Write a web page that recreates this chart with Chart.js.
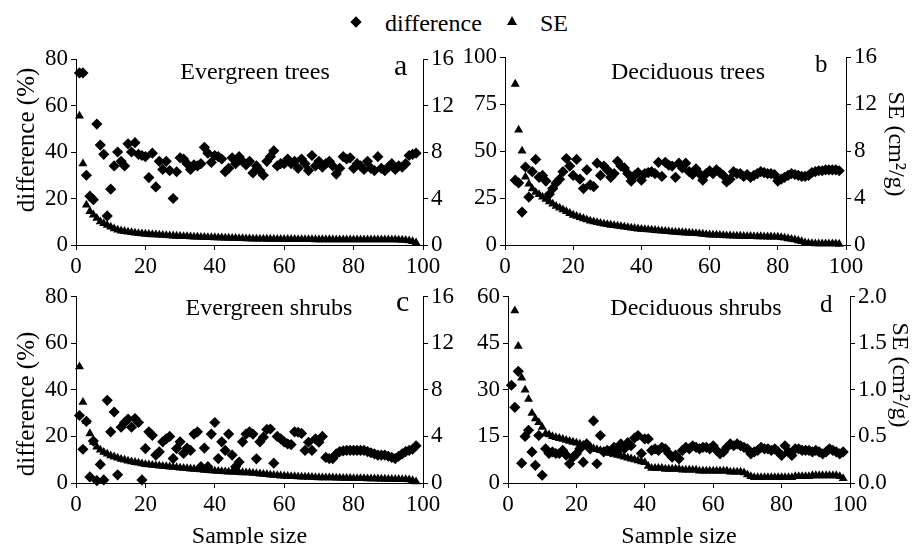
<!DOCTYPE html>
<html><head><meta charset="utf-8">
<script src="https://cdn.jsdelivr.net/npm/chart.js@4.4.1/dist/chart.umd.min.js"></script>
<style>
body{margin:0;background:#fff;width:922px;height:544px;position:relative;overflow:hidden;font-family:"Liberation Serif",serif;color:#000}
canvas{position:absolute}
.t{position:absolute;white-space:nowrap;line-height:24px;font-size:24px}
.c{transform:translateX(-50%)}
.vl{transform:translate(-50%,-50%) rotate(-90deg)}
.vr{transform:translate(-50%,-50%) rotate(90deg)}
.dia{position:absolute;width:8px;height:8px;background:#000;transform:rotate(45deg)}
.tri{position:absolute;width:0;height:0;border-left:5px solid transparent;border-right:5px solid transparent;border-bottom:9px solid #000}
</style></head><body>
<div class="dia" style="left:352px;top:18px"></div><div class="t" style="left:385px;top:11px">difference</div>
<div class="tri" style="left:507px;top:16px"></div><div class="t" style="left:540px;top:11px">SE</div>

<canvas id="cA" width="461" height="250" style="left:0;top:30px"></canvas>
<canvas id="cB" width="461" height="250" style="left:461px;top:30px"></canvas>
<canvas id="cC" width="461" height="264" style="left:0;top:280px"></canvas>
<canvas id="cD" width="461" height="264" style="left:461px;top:280px"></canvas>

<div class="t c" style="left:255px;top:59px">Evergreen trees</div>
<div class="t c" style="left:688px;top:59px">Deciduous trees</div>
<div class="t c" style="left:269px;top:295px">Evergreen shrubs</div>
<div class="t c" style="left:696px;top:295px">Deciduous shrubs</div>
<div class="t" style="left:394px;top:50px;font-size:30px;line-height:30px">a</div>
<div class="t" style="left:815px;top:51px;font-size:25px;line-height:25px">b</div>
<div class="t" style="left:396px;top:286px;font-size:30px;line-height:30px">c</div>
<div class="t" style="left:820px;top:291px;font-size:25px;line-height:25px">d</div>

<div class="t vl" style="left:26px;top:140px;font-size:25px">difference (%)</div>
<div class="t vl" style="left:26px;top:404px;font-size:25px">difference (%)</div>
<div class="t vr" style="left:897px;top:144px">SE (cm²/g)</div>
<div class="t vr" style="left:901px;top:375px">SE (cm²/g)</div>

<script>
// ---- data (sample size starts at xStart, one value per sample size) ----
const xStartDiffA = 1, xStartSeA = 1;
const diffA = [74,74,30,21,19.5,52,43,39,12.5,24, 34,40,36,34,43.5,40,44,39,38.5,38,
  29,39.5,25,36,32.5,36,32,20,31.5,37.5, 37,35,32.5,34.5,34,35,42,39.5,35.5,38.5,
  38,37,31.5,33,37.5,35,38,36,34.5,36, 31,34,32,30,36,38,40.5,34,35,35,
  37,35,36,33,37,35,32,38.5,34,36, 33.5,35,36,34,30.5,33,38,37,37.5,33,
  35,34,32.5,36,33,32,38,33,32,33.5, 35,32.5,34,33.5,35,38.5,39,39.5];
const seA = [11.1,7.0,3.45,2.9,2.6,2.3,2.0,1.85,1.7,1.55, 1.4,1.3,1.22,1.18,1.12,1.08,1.04,1.0,0.97,0.94,
  0.92,0.9,0.88,0.86,0.84,0.82,0.8,0.79,0.77,0.76, 0.74,0.73,0.72,0.7,0.69,0.68,0.67,0.66,0.65,0.64,
  0.63,0.62,0.61,0.6,0.59,0.58,0.57,0.56,0.55,0.54, 0.53,0.53,0.52,0.52,0.51,0.51,0.5,0.5,0.5,0.49,
  0.49,0.49,0.49,0.48,0.48,0.48,0.48,0.48,0.47,0.47, 0.47,0.47,0.47,0.47,0.46,0.46,0.46,0.46,0.46,0.46,
  0.46,0.46,0.46,0.46,0.45,0.45,0.45,0.45,0.45,0.45, 0.45,0.45,0.44,0.44,0.42,0.38,0.3,0.2];

const xStartDiffB = 3, xStartSeB = 3;
const diffB = [34.5,33,17.5,41.5,25.5,39,45.5,36,37,34, 27,30,33,35,39,46,42,37,45.5,35,
  30,40,32,31,43.5,37,42,40,36,38, 44.5,42,41,38,34,37,38.5,34.5,38,38.5,
  39,38,44,36.5,44,42.5,42,36,43.5,41, 43.5,39,37.5,40.5,38,34.5,38,39.5,38,40,
  38.5,37,33.5,35,39,38,38,36.5,37.5,36, 37,38,39,38.5,38,38,37.5,34,35,36,
  37,38,37.5,37,36.5,36.5,37,38.5,39,39.5, 39.5,40,40,40,40,39.5];
const seB = [13.7,9.8,8.0,5.8,5.2,4.8,4.5,4.3,4.1,3.9, 3.7,3.5,3.3,3.15,3.0,2.85,2.7,2.55,2.45,2.35,
  2.25,2.15,2.05,1.98,1.92,1.86,1.8,1.75,1.7,1.66, 1.62,1.58,1.54,1.5,1.46,1.42,1.38,1.35,1.32,1.3,
  1.28,1.25,1.22,1.2,1.18,1.15,1.12,1.1,1.08,1.06, 1.04,1.02,1.0,0.98,0.96,0.93,0.9,0.87,0.86,0.85,
  0.84,0.82,0.8,0.79,0.78,0.77,0.76,0.75,0.74,0.74, 0.73,0.72,0.72,0.71,0.7,0.7,0.69,0.68,0.64,0.6,
  0.55,0.5,0.45,0.38,0.3,0.2,0.15,0.13,0.12,0.12, 0.12,0.12,0.12,0.12,0.11,0.08];

const xStartDiffC = 1, xStartSeC = 1;
const diffC = [29,14.5,26.5,2.6,18,1,8,1.3,35.5,22, 30.5,3.5,24,26,27.5,24,27.7,26,1.3,14.8,
  22,20.5,12,13.4,17.7,19,20,10.5,14.8,17.7, 12.7,15,14,21,22,7,15,7,21,26,
  10.5,17.7,14,21,12,7,9,17.7,21,22, 21,10.4,17.7,19.7,23,23.2,8.5,20,19,17.7,
  16.8,16.5,22,21.8,21.3,14,17.5,14,19,17.5, 20,11,10.5,10.5,12.5,13.5,13.8,14,14,14,
  14,14,14,13.5,13,12.5,12,12,12,11.5, 11,10.5,11.5,12.5,13.5,14,14.5,16];
const seC = [10,6.95,5.3,4.25,3.5,3.1,2.85,2.65,2.5,2.35, 2.25,2.15,2.05,1.98,1.9,1.84,1.78,1.72,1.66,1.6,
  1.57,1.54,1.51,1.48,1.45,1.42,1.39,1.36,1.33,1.3, 1.28,1.25,1.22,1.2,1.17,1.14,1.11,1.09,1.06,1.03,
  1.01,0.99,0.98,0.96,0.95,0.93,0.92,0.9,0.89,0.88, 0.85,0.82,0.79,0.76,0.73,0.7,0.67,0.65,0.62,0.6,
  0.59,0.57,0.56,0.55,0.53,0.52,0.51,0.5,0.48,0.47, 0.46,0.46,0.45,0.45,0.44,0.43,0.42,0.41,0.41,0.4,
  0.4,0.39,0.39,0.38,0.37,0.37,0.36,0.35,0.34,0.33, 0.33,0.32,0.32,0.31,0.3,0.28,0.22,0.12];

const xStartDiffD = 1, xStartSeD = 2;
const diffD = [31.5,24.4,36,6.4,15,17,10,5.7,15.3,2.5, 11,9.5,10,9.5,9.5,10.5,9,6.2,8.3,9.4,
  11,6.7,12.6,11,20,6.2,15.3,10,10.5,10, 11.5,10.5,12.6,11,13,12,14.5,15.3,9.5,14.2,
  14.2,10.5,11,10.5,11.5,11,9.5,8.3,9,7.8, 10.5,11.5,11,12,11.5,11,11.5,11.5,11,12,
  10.5,9.4,10,11.5,12.6,12,12.6,12,11.5,11, 9.4,10,10.5,11.5,11,11,10.5,11,10,8.9,
  12,10,8.9,11,11,10.5,10.5,10.5,10,10.5, 10,9.4,10,11,10.5,10,9.4,10];
const seD = [1.85,1.47,1.13,1.0,0.9,0.75,0.69,0.65,0.6,0.53, 0.52,0.5,0.49,0.48,0.47,0.46,0.45,0.44,0.43,0.42,
  0.41,0.4,0.39,0.37,0.36,0.35,0.34,0.33,0.32,0.31, 0.3,0.29,0.28,0.27,0.26,0.25,0.24,0.23,0.22,0.18,
  0.16,0.16,0.16,0.16,0.15,0.15,0.15,0.15,0.15,0.14, 0.14,0.14,0.14,0.14,0.13,0.13,0.13,0.13,0.13,0.13,
  0.13,0.13,0.13,0.12,0.12,0.12,0.12,0.11,0.09,0.07, 0.06,0.06,0.06,0.06,0.06,0.06,0.06,0.06,0.06,0.06,
  0.06,0.06,0.07,0.07,0.07,0.07,0.07,0.08,0.08,0.08, 0.08,0.08,0.08,0.08,0.08,0.07,0.05];

const xTicks = [0, 100, 20];           // min, max, step
const leftA = [0, 80, 20], rightA = [0, 16, 4];
const leftB = [0, 100, 25], rightB = [0, 16, 4];
const leftC = [0, 80, 20], rightC = [0, 16, 4];
const leftD = [0, 60, 15], rightD = [0, 2, 0.5];

// ---- rendering ----
const FONT = 'Liberation Serif';
Chart.defaults.font.family = FONT;
Chart.defaults.color = '#000';

function pts(start, arr){ return arr.map((v,i)=>({x:start+i, y:v})); }

function axis(pos, rng, w, title, fmt){
  return {
    type:'linear', position:pos, min:rng[0], max:rng[1],
    ticks:{stepSize:rng[2], font:{family:FONT, size:23}, color:'#000', padding:3, autoSkip:false,
      callback: fmt || (v=>v)},
    grid:{display:true, drawOnChartArea:false, drawTicks:true, tickLength:5, color:'#000', lineWidth:1},
    border:{display:true, color:'#000', width:1},
    afterFit: s=>{ if (pos==='bottom') s.height=w; else s.width=w; },
    title: title ? {display:true, text:title, font:{family:FONT, size:24, lineHeight:0.6}, color:'#000', padding:{top:0,bottom:0}} : {display:false}
  };
}

function make(id, o){
  new Chart(document.getElementById(id), {
    type:'scatter',
    data:{datasets:[
      {label:'difference', data:pts(o.xd, o.diff), yAxisID:'y', pointStyle:'rectRot', pointRadius:5.6,
       backgroundColor:'#000', borderWidth:0, pointBorderWidth:0, clip:false},
      {label:'SE', data:pts(o.xs, o.se), yAxisID:'y1', pointStyle:'triangle', pointRadius:5.2,
       backgroundColor:'#000', borderWidth:0, pointBorderWidth:0, clip:false}
    ]},
    options:{
      responsive:false, animation:false, devicePixelRatio:1,
      layout:{padding:{top:o.padTop, left:0, right:0, bottom:0}},
      plugins:{legend:{display:false}, tooltip:{enabled:false}},
      scales:{
        x: axis('bottom', xTicks, o.xH, o.xTitle),
        y: axis('left', o.left, o.lw),
        y1: axis('right', o.right, o.rw, null, o.rfmt)
      }
    }
  });
}

make('cA', {xd:xStartDiffA, diff:diffA, xs:xStartSeA, se:seA, left:leftA, right:rightA,
  padTop:29, lw:76, rw:38, xH:35});
make('cB', {xd:xStartDiffB, diff:diffB, xs:xStartSeB, se:seB, left:leftB, right:rightB,
  padTop:27, lw:44, rw:76, xH:35});
make('cC', {xd:xStartDiffC, diff:diffC, xs:xStartSeC, se:seC, left:leftC, right:rightC,
  padTop:16, lw:76, rw:38, xH:61, xTitle:'Sample size'});
make('cD', {xd:xStartDiffD, diff:diffD, xs:xStartSeD, se:seD, left:leftD, right:rightD,
  padTop:16, lw:47, rw:72, xH:61, xTitle:'Sample size', rfmt: v=>v.toFixed(1)});
</script>
</body></html>
